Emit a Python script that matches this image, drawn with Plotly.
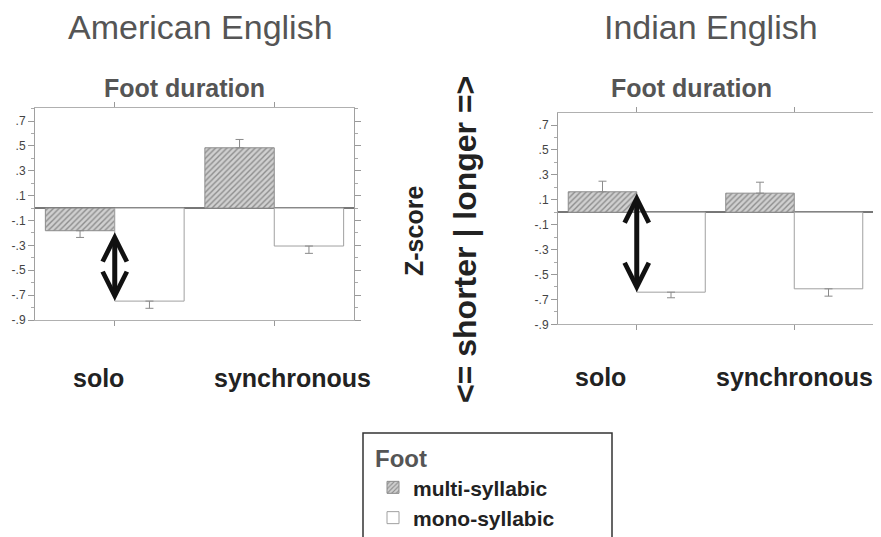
import plotly.graph_objects as go

# ---------------- data ----------------
CATEGORIES = ["solo", "synchronous"]
SERIES = ["multi-syllabic", "mono-syllabic"]

AM_MULTI = [-0.182, 0.485]
AM_MULTI_ERR = [0.054, 0.067]
AM_MONO = [-0.748, -0.305]
AM_MONO_ERR = [0.058, 0.059]

IN_MULTI = [0.164, 0.153]
IN_MULTI_ERR = [0.085, 0.088]
IN_MONO = [-0.642, -0.615]
IN_MONO_ERR = [0.045, 0.059]

TICK_VALS = [0.7, 0.5, 0.3, 0.1, -0.1, -0.3, -0.5, -0.7, -0.9]
TICK_TEXT = [".7", ".5", ".3", ".1", "-.1", "-.3", "-.5", "-.7", "-.9"]
MINOR_VALS = [0.8, 0.6, 0.4, 0.2, 0.0, -0.2, -0.4, -0.6, -0.8]

PANEL_TITLES = ["American English", "Indian English"]
SUBTITLE = "Foot duration"
LEGEND_TITLE = "Foot"
Y_TITLE = "Z-score"
Y_TITLE2 = "&lt;= shorter | longer =&gt;"

# ---------------- style ----------------
# The page body has an 8px margin, so the figure is sized to fill the rest
OFF = 8
W, H = 881 - OFF, 537 - OFF
FONT = "Liberation Sans, Arial, Helvetica, sans-serif"


def px_x(p):
    return (p - OFF) / W


def px_y(p):
    return 1 - (p - OFF) / H


def err(values, errs):
    plus = [e if v >= 0 else 0 for v, e in zip(values, errs)]
    minus = [e if v < 0 else 0 for v, e in zip(values, errs)]
    return dict(type="data", symmetric=False, array=plus, arrayminus=minus,
                color="#8a8a8a", thickness=1, width=4)


fig = go.Figure()

panels = [
    ("x", "y", AM_MULTI, AM_MULTI_ERR, AM_MONO, AM_MONO_ERR, True),
    ("x2", "y2", IN_MULTI, IN_MULTI_ERR, IN_MONO, IN_MONO_ERR, False),
]
for xa, ya, mv, me, nv, ne, show in panels:
    fig.add_trace(go.Bar(
        x=CATEGORIES, y=mv, name=SERIES[0], xaxis=xa, yaxis=ya,
        showlegend=show, legendgroup="m",
        marker=dict(color="#d0d0d0",
                    pattern=dict(shape="/", fgcolor="#4a4a4a", bgcolor="#d0d0d0",
                                 size=4, solidity=0.35),
                    line=dict(color="#8c8c8c", width=1)),
        error_y=err(mv, me),
    ))
    fig.add_trace(go.Bar(
        x=CATEGORIES, y=nv, name=SERIES[1], xaxis=xa, yaxis=ya,
        showlegend=show, legendgroup="n",
        marker=dict(color="white", line=dict(color="#a0a0a0", width=1)),
        error_y=err(nv, ne),
    ))

axis_common_x = dict(
    type="category", categoryorder="array", categoryarray=CATEGORIES,
    range=[-0.5, 1.5], showline=True, linecolor="#b0b0b0", linewidth=1,
    mirror="allticks", ticks="outside", ticklen=5, tickcolor="#999",
    showticklabels=False, showgrid=False, zeroline=False, fixedrange=True,
)
axis_common_y = dict(
    tickmode="array", tickvals=TICK_VALS, ticktext=TICK_TEXT,
    showline=True, linecolor="#a0a0a0", linewidth=1, mirror="allticks",
    ticks="outside", ticklen=6, tickcolor="#999",
    tickfont=dict(family=FONT, size=12, color="#444"),
    minor=dict(tickmode="array", tickvals=MINOR_VALS, ticks="outside",
               ticklen=3, tickcolor="#aaa", showgrid=False),
    showgrid=False, zeroline=True, zerolinecolor="#777", zerolinewidth=2,
    fixedrange=True,
)

fig.update_layout(
    width=W, height=H,
    margin=dict(l=0, r=0, t=0, b=0, autoexpand=False),
    paper_bgcolor="white", plot_bgcolor="white",
    barmode="group", bargap=0.13, bargroupgap=0,
    font=dict(family=FONT, color="#333"),
    xaxis=dict(domain=[px_x(35), px_x(354)], anchor="y", **axis_common_x),
    yaxis=dict(domain=[px_y(320), px_y(108)], anchor="x",
               range=[-0.9, 0.805], **axis_common_y),
    xaxis2=dict(domain=[px_x(558), px_x(873)], anchor="y2", **axis_common_x),
    yaxis2=dict(domain=[px_y(324.3), px_y(112.7)], anchor="x2",
                range=[-0.9, 0.799], **axis_common_y),
    legend=dict(
        x=px_x(373), y=px_y(436), xanchor="left", yanchor="top",
        bgcolor="rgba(0,0,0,0)", borderwidth=0,
        title=dict(text=LEGEND_TITLE,
                   font=dict(family=FONT, size=24, color="#555", weight="bold")),
        font=dict(family=FONT, size=21, color="#222", weight="bold"),
        traceorder="normal", tracegroupgap=0,
    ),
    showlegend=True,
)

# legend frame (extends past bottom edge like the original)
fig.add_shape(type="rect", xref="paper", yref="paper",
              x0=px_x(363), x1=px_x(612), y0=px_y(545), y1=px_y(433),
              line=dict(color="#333", width=1.5), fillcolor="rgba(0,0,0,0)",
              layer="below")


def label(text, cx, cy, size, color, angle=0):
    return dict(text=text, x=px_x(cx), y=px_y(cy), xref="paper", yref="paper",
                xanchor="center", yanchor="middle", showarrow=False, textangle=angle,
                font=dict(family=FONT, size=size, color=color))


ann = []
# panel titles
ann.append(label(PANEL_TITLES[0], 200, 27, 34, "#555"))
ann.append(label(PANEL_TITLES[1], 711, 27, 34, "#555"))
# subtitles
ann.append(label("<b>%s</b>" % SUBTITLE, 184, 88, 25, "#555"))
ann.append(label("<b>%s</b>" % SUBTITLE, 691, 88, 25, "#555"))
# category labels
for cx, cy, t in [(98, 378, CATEGORIES[0]), (292, 378, CATEGORIES[1]),
                  (600, 377, CATEGORIES[0]), (794, 377, CATEGORIES[1])]:
    ann.append(label("<b>%s</b>" % t, cx, cy, 25, "#222"))
# vertical titles
ann.append(label("<b>%s</b>" % Y_TITLE, 414, 231, 25, "#222", -90))
ann.append(label("<b>%s</b>" % Y_TITLE2, 465, 240, 32, "#222", -90))

# double-headed arrows between the solo bars
for xa, ya, top, bottom in [("x", "y", AM_MULTI[0], AM_MONO[0]),
                            ("x2", "y2", IN_MULTI[0], IN_MONO[0])]:
    ann.append(dict(x=0, y=bottom, ax=0, ay=top, xref=xa, yref=ya, axref=xa, ayref=ya,
                    text="", showarrow=True, arrowhead=5, startarrowhead=5,
                    arrowside="end+start", arrowwidth=5, arrowsize=0.95,
                    startarrowsize=0.95, arrowcolor="#111"))

fig.update_layout(annotations=ann)

fig.write_html("out.html")
